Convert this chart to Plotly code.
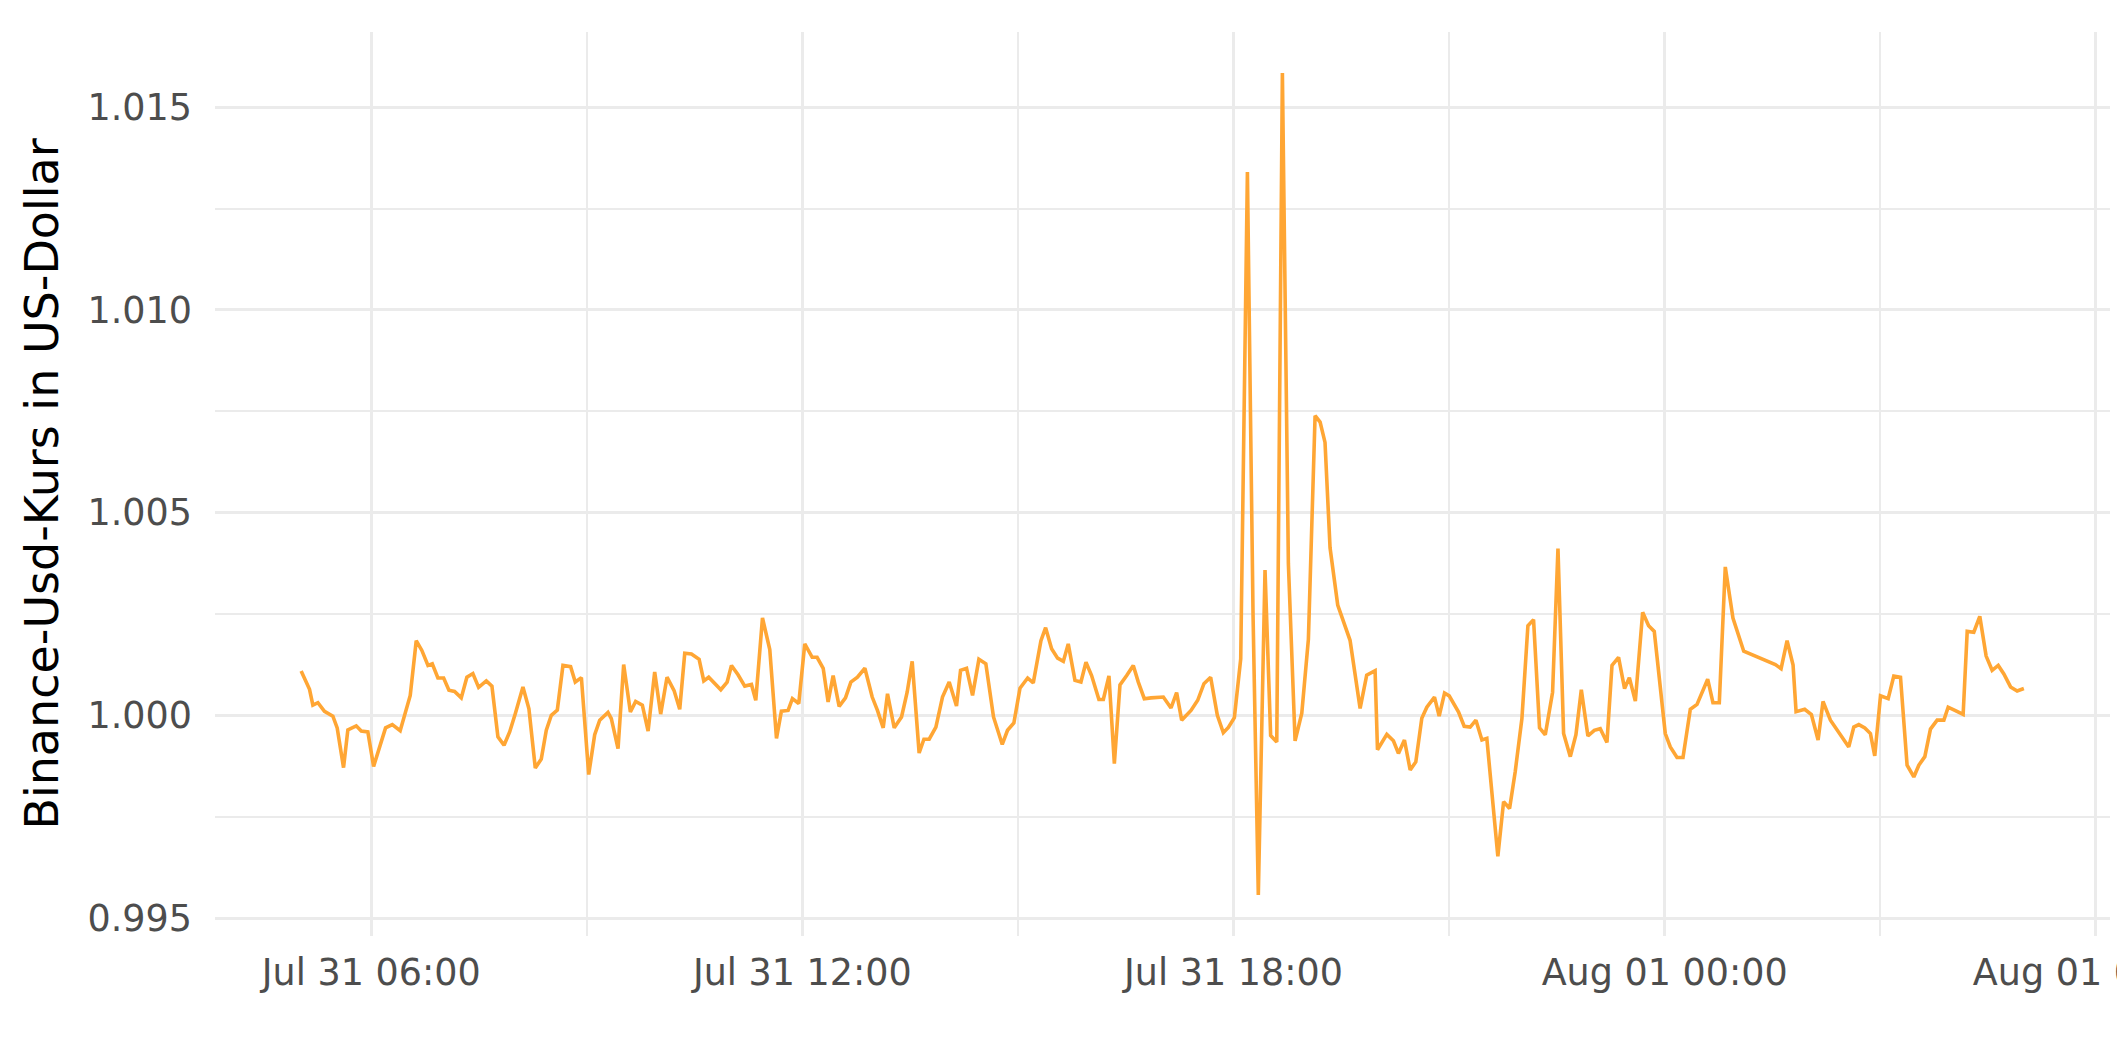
import pandas as pd
import plotly.graph_objects as go

# Timestamps: minutes after 2023-07-31 00:00
minutes = [
    301.5, 308.5, 311.3, 315.5, 321.0, 328.0, 331.6, 336.9, 340.5, 347.5,
    351.7, 357.2, 362.0, 367.0, 372.0, 377.6, 384.2, 392.6, 397.6, 402.3,
    407.4, 411.0, 415.7, 420.5, 424.9, 429.6, 435.2, 439.9, 444.9, 449.7,
    456.1, 460.8, 465.8, 470.9, 475.6, 480.3, 486.7, 491.7, 497.0, 502.0,
    506.2, 510.4, 515.4, 520.1, 526.5, 530.4, 535.5, 541.6, 546.6, 550.8,
    557.7, 560.5, 566.1, 570.8, 576.4, 580.8, 586.4, 591.2, 596.7, 601.7,
    607.0, 612.9, 617.6, 621.8, 627.4, 633.8, 637.7, 641.8, 647.7, 651.9,
    657.2, 660.8, 666.3, 671.9, 677.5, 681.1, 686.7, 692.8, 698.4,
    702.5, 708.1, 711.7, 717.0, 722.0, 728.2, 732.3, 737.4, 741.5, 745.7,
    750.7, 756.0, 760.5, 766.0, 772.2, 778.3, 782.7, 787.5, 791.1, 796.7,
    802.8, 807.5, 811.7, 817.5, 821.5, 825.9, 831.5, 837.0, 842.6, 848.7,
    852.1, 857.1, 862.1, 867.4, 873.2, 879.6, 886.9, 891.3, 896.6, 901.7,
    908.1, 912.8, 919.2, 923.1, 928.1, 933.1, 937.9, 942.0, 947.6, 952.6,
    956.8, 961.5, 967.6, 971.3, 976.0, 980.5, 985.2, 990.8, 996.3, 1000.5,
    1005.5, 1011.1, 1016.7, 1021.4, 1027.8, 1032.5, 1036.7, 1040.9, 1044.5, 1050.1,
    1055.3, 1060.9, 1066.5, 1071.5, 1075.7, 1080.7, 1086.0,
    1091.6, 1096.3, 1100.7, 1106.3, 1111.0, 1116.1, 1120.8, 1125.8, 1131.4, 1137.0,
    1142.5, 1148.1, 1152.3, 1156.4, 1160.6, 1167.0, 1177.3, 1185.7, 1191.2, 1198.2,
    1200.2, 1208.0, 1213.5, 1217.7, 1222.7,
    1227.5, 1232.2, 1237.2, 1241.4, 1247.8, 1251.7, 1256.2, 1260.1, 1267.9, 1272.6,
    1277.6, 1282.4, 1287.4, 1291.5, 1300.7, 1305.5, 1310.5, 1315.2, 1320.8, 1325.8,
    1330.5, 1335.5, 1340.3, 1346.4, 1350.9, 1355.6, 1361.2, 1365.9, 1370.4, 1375.9,
    1381.2, 1386.2, 1391.8, 1396.0, 1401.5, 1406.5, 1410.5, 1415.5, 1421.6, 1426.6,
    1431.3, 1440.5, 1444.7, 1450.3, 1455.3, 1461.4, 1467.0, 1475.9, 1480.3, 1485.6,
    1490.6, 1497.0, 1506.0, 1532.4, 1537.2, 1542.2, 1547.2, 1549.7, 1556.9, 1562.5,
    1568.1, 1572.2, 1578.4,
    1593.7, 1597.9, 1602.1, 1607.1, 1611.8, 1615.4, 1620.2, 1626.6, 1631.3, 1636.9,
    1642.4, 1648.0, 1652.2, 1657.2, 1661.9, 1667.5, 1673.1, 1676.7, 1682.3, 1689.2,
    1692.6, 1698.1, 1703.1, 1708.4, 1713.4, 1718.5, 1723.2, 1728.8, 1734.3, 1739.9,
]

# Binance USD price in US dollars
price_usd = [
    1.00109, 1.00064, 1.00025, 1.00031, 1.00010, 0.99998, 0.99969, 0.99871, 0.99964, 0.99974,
    0.99961, 0.99959, 0.99874, 0.99922, 0.99969, 0.99977, 0.99962, 1.00049, 1.00184, 1.00160,
    1.00123, 1.00127, 1.00092, 1.00092, 1.00062, 1.00059, 1.00043, 1.00094, 1.00103, 1.00069,
    1.00085, 1.00072, 0.99947, 0.99926, 0.99959, 1.00004, 1.00070, 1.00016, 0.99870, 0.99892,
    0.99963, 1.00000, 1.00013, 1.00123, 1.00120, 1.00082, 1.00093, 0.99854, 0.99952, 0.99988,
    1.00007, 0.99992, 0.99918, 1.00125, 1.00008, 1.00034, 1.00025, 0.99961, 1.00107, 1.00003,
    1.00094, 1.00061, 1.00015, 1.00153, 1.00151, 1.00138, 1.00085, 1.00094, 1.00074, 1.00063,
    1.00082, 1.00123, 1.00100, 1.00072, 1.00076, 1.00037, 1.00240, 1.00162, 0.99943,
    1.00010, 1.00012, 1.00041, 1.00029, 1.00176, 1.00143, 1.00143, 1.00116, 1.00033, 1.00098,
    1.00022, 1.00043, 1.00082, 1.00094, 1.00116, 1.00045, 1.00012, 0.99969, 1.00053, 0.99969,
    0.99996, 1.00057, 1.00133, 0.99907, 0.99941, 0.99941, 0.99971, 1.00045, 1.00082, 1.00023,
    1.00111, 1.00116, 1.00049, 1.00138, 1.00127, 0.99996, 0.99928, 0.99963, 0.99981, 1.00067,
    1.00092, 1.00080, 1.00184, 1.00216, 1.00164, 1.00141, 1.00133, 1.00176, 1.00086, 1.00082,
    1.00131, 1.00098, 1.00039, 1.00039, 1.00097, 0.99881, 1.00075, 1.00098, 1.00123, 1.00082,
    1.00041, 1.00043, 1.00043, 1.00045, 1.00018, 1.00056, 0.99988, 1.00000, 1.00012, 1.00037,
    1.00078, 1.00094, 1.00000, 0.99957, 0.99970, 0.99994, 1.00139,
    1.01340, 1.00248, 0.99557, 1.00358, 0.99950, 0.99934, 1.01584, 1.00374, 0.99937, 1.00005,
    1.00187, 1.00739, 1.00723, 1.00673, 1.00413, 1.00272, 1.00185, 1.00017, 1.00099, 1.00110,
    0.99915, 0.99953, 0.99937, 0.99906, 0.99939,
    0.99865, 0.99885, 0.99993, 1.00020, 1.00045, 0.99998, 1.00055, 1.00048, 1.00008, 0.99973,
    0.99971, 0.99988, 0.99939, 0.99943, 0.99652, 0.99787, 0.99770, 0.99861, 0.99992, 1.00221,
    1.00236, 0.99969, 0.99952, 1.00057, 1.00411, 0.99955, 0.99898, 0.99952, 1.00063, 0.99949,
    0.99963, 0.99967, 0.99933, 1.00123, 1.00143, 1.00066, 1.00093, 1.00035, 1.00254, 1.00221,
    1.00207, 0.99955, 0.99922, 0.99896, 0.99896, 1.00015, 1.00027, 1.00089, 1.00031, 1.00031,
    1.00366, 1.00240, 1.00158, 1.00125, 1.00115, 1.00184, 1.00124, 1.00009, 1.00015, 1.00002,
    0.99939, 1.00034, 0.99988,
    0.99922, 0.99971, 0.99977, 0.99969, 0.99955, 0.99900, 1.00048, 1.00041, 1.00097, 1.00094,
    0.99877, 0.99848, 0.99877, 0.99898, 0.99966, 0.99988, 0.99988, 1.00020, 1.00012, 1.00002,
    1.00207, 1.00205, 1.00244, 1.00146, 1.00111, 1.00123, 1.00102, 1.00070, 1.00060, 1.00066,
]

y_tick_values = [0.995, 1.000, 1.005, 1.010, 1.015]
y_tick_labels = ["0.995", "1.000", "1.005", "1.010", "1.015"]
y_title = "Binance-Usd-Kurs in US-Dollar"

start = pd.Timestamp("2023-07-31 00:00")
times = start + pd.to_timedelta(minutes, unit="min")

# ggplot-like 5% expansion of the data range
t_min, t_max = times.min(), times.max()
t_pad = (t_max - t_min) * 0.05
p_min, p_max = min(price_usd), max(price_usd)
p_pad = (p_max - p_min) * 0.05

FONT = "DejaVu Sans"
GRID = "#EBEBEB"

fig = go.Figure(
    go.Scatter(
        x=times,
        y=price_usd,
        mode="lines",
        line=dict(color="#FFA634", width=3.6),
        connectgaps=True,
        showlegend=False,
    )
)

fig.update_layout(
    width=2125,
    height=1062,
    margin=dict(l=207, r=23, t=24, b=134),
    paper_bgcolor="white",
    plot_bgcolor="white",
    font=dict(family=FONT, color="#4D4D4D"),
    showlegend=False,
)

fig.update_xaxes(
    type="date",
    range=[t_min - t_pad, t_max + t_pad],
    tick0="2023-07-31 00:00",
    dtick=6 * 3600 * 1000,
    tickformat="%b %d %H:%M",
    tickfont=dict(family=FONT, size=36.5, color="#4D4D4D"),
    ticks="",
    ticklabelstandoff=11,
    ticklabeloverflow="allow",
    showgrid=True,
    gridcolor=GRID,
    gridwidth=3,
    zeroline=False,
    showline=False,
    automargin=False,
    minor=dict(dtick=3 * 3600 * 1000, showgrid=True, gridcolor=GRID, gridwidth=1.6, ticks=""),
)

fig.update_yaxes(
    range=[p_min - p_pad, p_max + p_pad],
    tickmode="array",
    tickvals=y_tick_values,
    ticktext=y_tick_labels,
    tickfont=dict(family=FONT, size=36.5, color="#4D4D4D"),
    ticks="",
    ticklabelstandoff=22,
    showgrid=True,
    gridcolor=GRID,
    gridwidth=3,
    zeroline=False,
    showline=False,
    automargin=False,
    minor=dict(dtick=0.0025, tick0=0.995, showgrid=True, gridcolor=GRID, gridwidth=1.6, ticks=""),
    title=dict(text=y_title, font=dict(family=FONT, size=46, color="black"), standoff=14),
)

fig.write_html("out.html")
